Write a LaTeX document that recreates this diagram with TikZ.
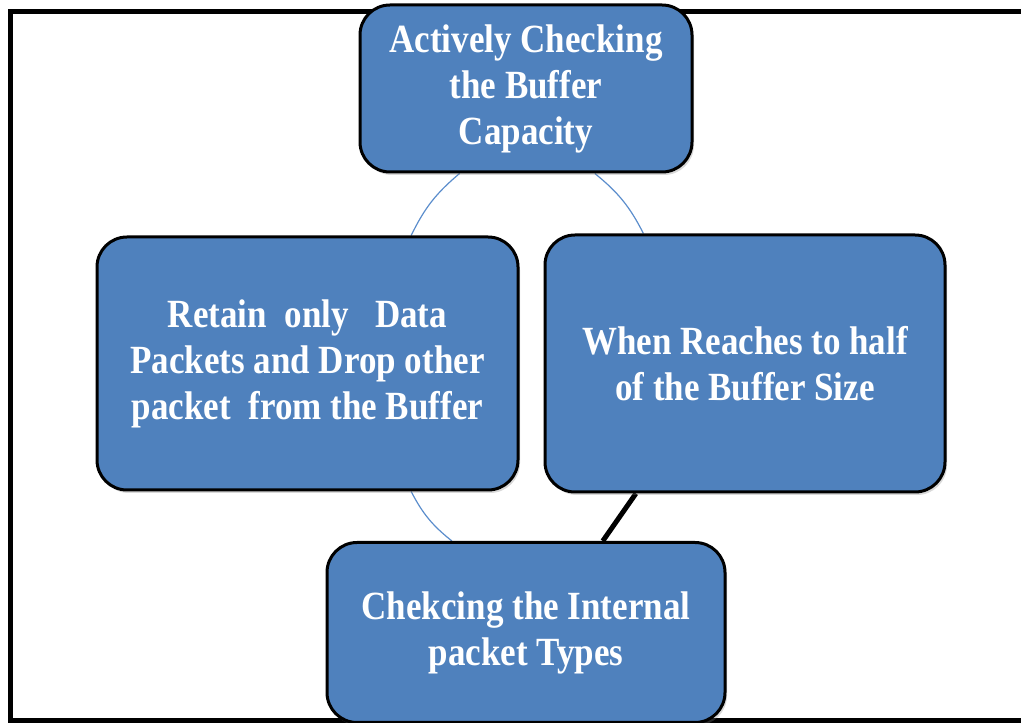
\documentclass[tikz,border=0pt]{standalone}
\usepackage{fontspec}
\newfontfamily\boxfont{Liberation Serif}[FakeStretch=0.875]
\usetikzlibrary{positioning}
\usetikzlibrary{shadows}
\usetikzlibrary{backgrounds}
\definecolor{boxBlue}{RGB}{79,129,189}
\definecolor{linkBlue}{RGB}{91,141,204}

\begin{document}
\begin{tikzpicture}[x=1pt,y=1pt,
  box/.style={draw=black, line width=3pt, fill=boxBlue, rounded corners=30pt,
    text=white, font=\boxfont\bfseries\fontsize{40}{46}\selectfont,
    align=center, inner sep=0pt,
    drop shadow={opacity=0.3, shadow xshift=2pt, shadow yshift=-3pt}},
  link/.style={linkBlue, line width=1.2pt}]
\useasboundingbox (0,0) rectangle (1021,723);

% frame
\draw [line width=5pt] (1021,711.5) -- (10.5,711.5) -- (10.5,2) -- (1021,2);

% boxes
\node [box, minimum width=332, minimum height=167] (chk) at (526,634.5)
  {Actively Checking\\the Buffer\\Capacity};
\node [box, minimum width=421, minimum height=253] (ret) at (307.5,359.5)
  {Retain\ \ only\ \ \ Data\\Packets and Drop other\\packet\ \ from the Buffer};
\node [box, minimum width=400, minimum height=257] (half) at (745,359.5)
  {When Reaches to half\\of the Buffer Size};
\node [box, minimum width=398, minimum height=180] (typ) at (526,90.5)
  {Chekcing the Internal\\packet Types};

% links
\begin{scope}[on background layer]
\draw [link] (chk.232) to [bend right=12] (ret.51);
\draw [link] (chk.309.6) to [bend left=12] (half.128.7);
\draw [link] (ret.309) to [bend right=12] (typ.129.8);
\draw [line width=5pt] (half.230.3) -- (typ.50.4);
\end{scope}
\end{tikzpicture}
\end{document}
